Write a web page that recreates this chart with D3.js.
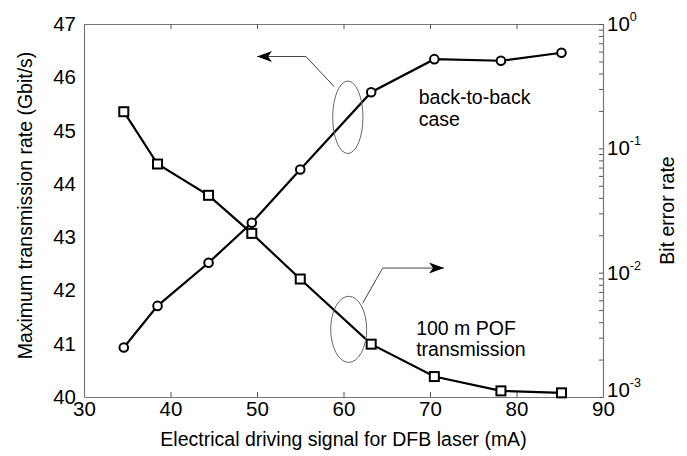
<!DOCTYPE html>
<html>
<head>
    <meta charset="UTF-8">
    <title>Transmission rate and BER vs driving signal</title>
    <script src="https://d3js.org/d3.v7.min.js"></script>
    <style>
        body { margin: 0; background: #fff; }
        text { font-family: "Liberation Sans", Arial, Helvetica, sans-serif; fill: #000; }
    </style>
</head>
<body>
    <div class="canvas"></div>

    <script>
        // data
        const current = [34.6, 38.5, 44.4, 49.4, 55.0, 63.2, 70.5, 78.2, 85.2];          // mA
        const rateB2B = [40.93, 41.71, 42.52, 43.27, 44.27, 45.72, 46.34, 46.31, 46.46];  // Gbit/s
        const berPOF = [0.197, 0.0748, 0.0419, 0.0207, 0.00889, 0.00266, 0.00146, 0.00112, 0.00108];

        const xTicks = [30, 40, 50, 60, 70, 80, 90];
        const leftTicks = [40, 41, 42, 43, 44, 45, 46, 47];
        const decades = [1e-3, 1e-2, 1e-1, 1];

        // annotations in data units (x: mA, y: Gbit/s)
        const ellipses = [
            { cx: 60.5, cy: 45.25, rx: 1.75, ry: 0.68 },
            { cx: 60.6, cy: 41.27, rx: 2.08, ry: 0.62 }
        ];
        const arrows = [
            [[58.94, 45.82], [55.66, 46.39], [50.0, 46.39]],
            [[62.22, 41.76], [64.53, 42.42], [71.62, 42.42]]
        ];
        const labels = [
            { x: 68.7, y: 45.5, lines: ["back-to-back", "case"], gap: 22.5 },
            { x: 68.4, y: 41.16, lines: ["100 m POF", "transmission"], gap: 21 }
        ];

        const width = 687;
        const height = 456;
        const margin = { top: 24, right: 84, bottom: 59, left: 84 };

        const svg = d3.select(".canvas")
            .append("svg")
            .attr("width", width)
            .attr("height", height);

        const x = d3.scaleLinear().domain([30, 90]).range([margin.left, width - margin.right]);
        const yL = d3.scaleLinear().domain([40, 47]).range([height - margin.bottom, margin.top]);
        const yR = d3.scaleLog().domain([1e-3, 1]).range([height - margin.bottom, margin.top]);

        const frame = "#777";
        const tickFont = "20.5px";

        // axes
        const xAxisGroup = svg.append("g")
            .attr("transform", `translate(0, ${yL(40)})`)
            .call(d3.axisBottom(x).tickValues(xTicks).tickSizeInner(-5).tickSizeOuter(0).tickPadding(4));

        const topAxisGroup = svg.append("g")
            .attr("transform", `translate(0, ${yL(47)})`)
            .call(d3.axisTop(x).tickValues(xTicks).tickSizeInner(-5).tickSizeOuter(0).tickFormat(""));

        const yAxisGroup = svg.append("g")
            .attr("transform", `translate(${x(30)}, 0)`)
            .call(d3.axisLeft(yL).tickValues(leftTicks).tickSize(0).tickPadding(8).tickFormat(d3.format("d")));

        // minor log ticks on the right
        const minor = [];
        decades.slice(0, 3).forEach(d => { for (let k = 1; k < 10; k++) minor.push(d * k); });
        minor.push(1);

        const rightAxisGroup = svg.append("g")
            .attr("transform", `translate(${x(90)}, 0)`)
            .call(d3.axisRight(yR).tickValues(minor).tickSizeInner(-4).tickSizeOuter(0).tickFormat(""));

        [xAxisGroup, topAxisGroup, yAxisGroup, rightAxisGroup].forEach(g => {
            g.selectAll("path.domain").attr("stroke", frame).attr("stroke-width", 1.2);
            g.selectAll(".tick line").attr("stroke", "#555").attr("stroke-width", 1);
            g.selectAll("text").style("font-size", tickFont).attr("fill", "#000");
        });

        // 10^n labels
        const decLabels = svg.append("g").selectAll("text")
            .data(decades)
            .enter()
            .append("text")
            .attr("x", x(90) + 4)
            .attr("y", d => yR(d) + (d === 1e-3 ? 0 : 7))
            .style("font-size", tickFont);
        decLabels.append("tspan").text("10");
        decLabels.append("tspan")
            .attr("dy", -10)
            .style("font-size", "12.5px")
            .text(d => Math.round(Math.log10(d)));

        // axis titles
        svg.append("text")
            .attr("x", (x(30) + x(90)) / 2)
            .attr("y", 446)
            .attr("text-anchor", "middle")
            .style("font-size", "19.5px")
            .text("Electrical driving signal for DFB laser (mA)");

        svg.append("text")
            .attr("transform", `translate(32, ${(yL(40) + yL(47)) / 2 - 5}) rotate(-90)`)
            .attr("text-anchor", "middle")
            .style("font-size", "19.5px")
            .text("Maximum transmission rate (Gbit/s)");

        svg.append("text")
            .attr("transform", `translate(674, ${(yR(1e-3) + yR(1)) / 2}) rotate(-90)`)
            .attr("text-anchor", "middle")
            .style("font-size", "19.5px")
            .text("Bit error rate");

        // series
        const circData = current.map((c, i) => ({ x: c, y: rateB2B[i] }));
        const sqData = current.map((c, i) => ({ x: c, y: berPOF[i] }));

        const lineL = d3.line().x(d => x(d.x)).y(d => yL(d.y));
        const lineR = d3.line().x(d => x(d.x)).y(d => yR(d.y));

        svg.append("path")
            .datum(circData)
            .attr("d", lineL)
            .attr("fill", "none")
            .attr("stroke", "#000")
            .attr("stroke-width", 2.2);

        svg.append("path")
            .datum(sqData)
            .attr("d", lineR)
            .attr("fill", "none")
            .attr("stroke", "#000")
            .attr("stroke-width", 2.2);

        svg.selectAll("circle.pt")
            .data(circData)
            .enter()
            .append("circle")
            .attr("class", "pt")
            .attr("cx", d => x(d.x))
            .attr("cy", d => yL(d.y))
            .attr("r", 4.3)
            .attr("fill", "#fff")
            .attr("stroke", "#000")
            .attr("stroke-width", 2);

        svg.selectAll("rect.pt")
            .data(sqData)
            .enter()
            .append("rect")
            .attr("class", "pt")
            .attr("x", d => x(d.x) - 4.5)
            .attr("y", d => yR(d.y) - 4.5)
            .attr("width", 9)
            .attr("height", 9)
            .attr("fill", "#fff")
            .attr("stroke", "#000")
            .attr("stroke-width", 2);

        // annotations
        svg.append("defs").append("marker")
            .attr("id", "head")
            .attr("markerUnits", "userSpaceOnUse")
            .attr("viewBox", "0 -6 16 12")
            .attr("markerWidth", 16)
            .attr("markerHeight", 12)
            .attr("refX", 15)
            .attr("refY", 0)
            .attr("orient", "auto")
            .append("path")
            .attr("d", "M0,-5.5L15,0L0,5.5L4,0Z")
            .attr("fill", "#000");

        svg.selectAll("ellipse")
            .data(ellipses)
            .enter()
            .append("ellipse")
            .attr("cx", d => x(d.cx))
            .attr("cy", d => yL(d.cy))
            .attr("rx", d => x(d.cx + d.rx) - x(d.cx))
            .attr("ry", d => yL(d.cy) - yL(d.cy + d.ry))
            .attr("fill", "none")
            .attr("stroke", "#666")
            .attr("stroke-width", 1);

        svg.selectAll("path.arrow")
            .data(arrows)
            .enter()
            .append("path")
            .attr("class", "arrow")
            .attr("d", d3.line().x(d => x(d[0])).y(d => yL(d[1])))
            .attr("fill", "none")
            .attr("stroke", "#444")
            .attr("stroke-width", 1)
            .attr("marker-end", "url(#head)");

        labels.forEach(l => {
            const t = svg.append("text")
                .attr("x", x(l.x))
                .attr("y", yL(l.y))
                .style("font-size", "19.5px");
            l.lines.forEach((s, i) => {
                t.append("tspan")
                    .attr("x", x(l.x))
                    .attr("dy", i === 0 ? 0 : l.gap)
                    .text(s);
            });
        });
    </script>
</body>
</html>
